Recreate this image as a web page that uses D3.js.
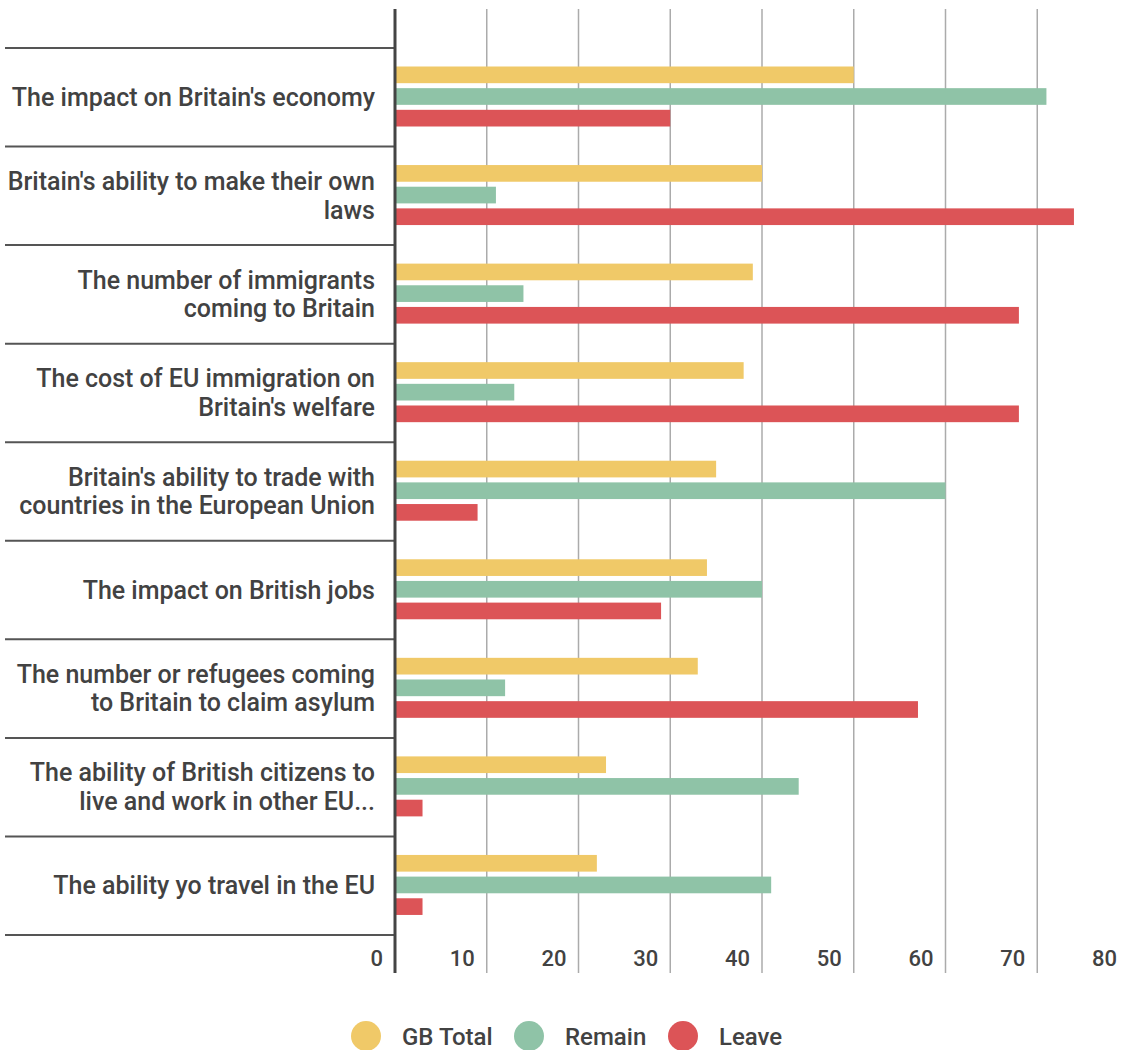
<!DOCTYPE html>
<html>
<head>
<meta charset="utf-8">
<script src="https://cdn.jsdelivr.net/npm/d3@7"></script>
<style>
  body { margin: 0; background: #fff; }
  text { font-family: Roboto, "Noto Sans", sans-serif; fill: #424242; }
</style>
</head>
<body>
<div id="chart"></div>
<script>
// categories, line breaks as in the original labels
const categories = [
  "The impact on Britain's economy",
  "Britain's ability to make their own|laws",
  "The number of immigrants|coming to Britain",
  "The cost of EU immigration on|Britain's welfare",
  "Britain's ability to trade with|countries in the European Union",
  "The impact on British jobs",
  "The number or refugees coming|to Britain to claim asylum",
  "The ability of British citizens to|live and work in other EU...",
  "The ability yo travel in the EU"
];
const seriesNames = ["GB Total", "Remain", "Leave"];
const gbTotal = [50, 40, 39, 38, 35, 34, 33, 23, 22];
const remain  = [71, 11, 14, 13, 60, 40, 12, 44, 41];
const leave   = [30, 74, 68, 68, 9, 29, 57, 3, 3];
const xTicks = [0, 10, 20, 30, 40, 50, 60, 70, 80];

const colors = ["#f0c968", "#8fc3a7", "#dc5457"];
const values = [gbTotal, remain, leave];

const width = 1125, height = 1050;
const svg = d3.select("#chart").append("svg")
  .attr("width", width)
  .attr("height", height);

const x = d3.scaleLinear().domain([0, 80]).range([395, 1129]);
const y = d3.scaleBand().domain(d3.range(categories.length)).range([48, 935]);
const ySub = d3.scaleBand().domain(d3.range(3))
  .range([18.5, 78.5]).paddingInner(0.23);

// gridlines
svg.append("g").selectAll("line")
  .data(xTicks.slice(1))
  .join("line")
  .attr("x1", d => x(d)).attr("x2", d => x(d))
  .attr("y1", 9).attr("y2", 973)
  .attr("stroke", "#ababab")
  .attr("stroke-width", 1.5);

// category separators
svg.append("g").selectAll("line")
  .data(d3.range(categories.length + 1))
  .join("line")
  .attr("x1", 5).attr("x2", 395)
  .attr("y1", d => d < categories.length ? y(d) : y.range()[1])
  .attr("y2", d => d < categories.length ? y(d) : y.range()[1])
  .attr("stroke", "#555")
  .attr("stroke-width", 2);

// bars
const groups = svg.append("g").selectAll("g")
  .data(categories)
  .join("g")
  .attr("transform", (d, i) => "translate(0," + y(i) + ")");

groups.selectAll("rect")
  .data((d, i) => values.map((s, j) => ({ s: j, v: s[i] })))
  .join("rect")
  .attr("x", x(0))
  .attr("y", d => ySub(d.s))
  .attr("width", d => x(d.v) - x(0))
  .attr("height", ySub.bandwidth())
  .attr("fill", d => colors[d.s]);

// category labels
groups.append("text")
  .attr("text-anchor", "end")
  .attr("font-size", 25)
  .attr("font-weight", 500)
  .each(function (d) {
    const lines = d.split("|");
    const t = d3.select(this);
    const mid = y.bandwidth() / 2;
    lines.forEach((l, k) => {
      t.append("tspan")
        .attr("x", 375)
        .attr("y", mid + 8.5 + (k - (lines.length - 1) / 2) * 28.5)
        .text(l);
    });
  });

// zero axis line
svg.append("line")
  .attr("x1", x(0)).attr("x2", x(0))
  .attr("y1", 9).attr("y2", 973)
  .attr("stroke", "#444")
  .attr("stroke-width", 3);

// tick labels
svg.append("g").selectAll("text")
  .data(xTicks)
  .join("text")
  .attr("x", d => x(d) - 12)
  .attr("y", 966)
  .attr("text-anchor", "end")
  .attr("font-size", 22)
  .attr("font-weight", 500)
  .text(d => d);

// legend
const legendX = [366, 529, 683];
const legend = svg.append("g").selectAll("g")
  .data(seriesNames)
  .join("g")
  .attr("transform", (d, i) => "translate(" + legendX[i] + ",1036)");
legend.append("circle")
  .attr("r", 15)
  .attr("fill", (d, i) => colors[i]);
legend.append("text")
  .attr("x", 36)
  .attr("y", 8.5)
  .attr("font-size", 24)
  .attr("font-weight", 500)
  .text(d => d);
</script>
</body>
</html>
